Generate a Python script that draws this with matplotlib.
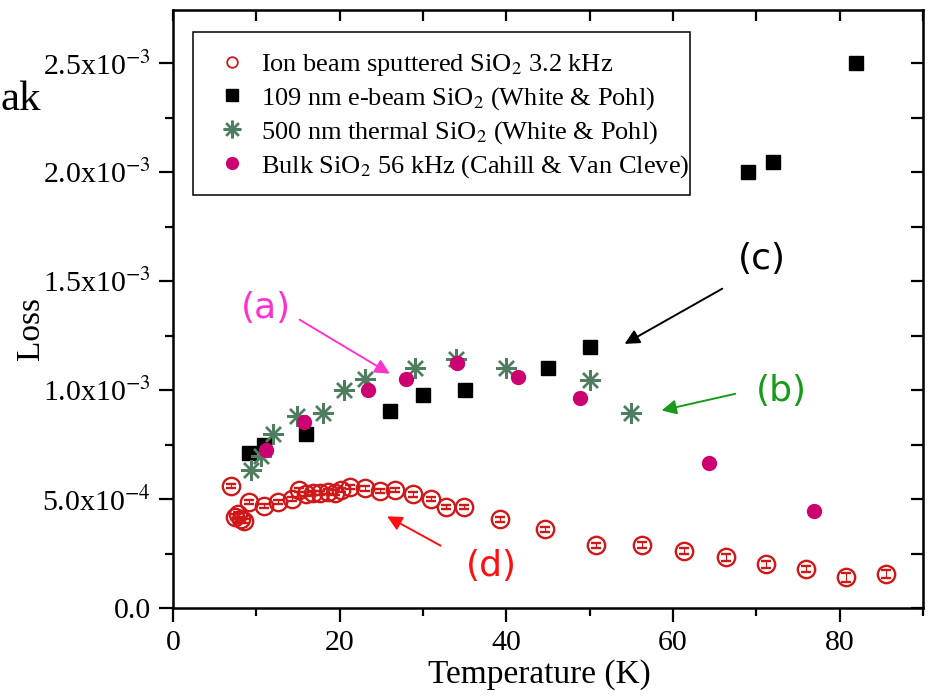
import numpy as np
import matplotlib
matplotlib.use("Agg")
import matplotlib.pyplot as plt
from matplotlib.patches import Rectangle
from matplotlib.ticker import MultipleLocator, FixedLocator

plt.rcParams['font.family'] = ['Liberation Serif', 'DejaVu Serif']
plt.rcParams['mathtext.fontset'] = 'stix'

# ion beam sputtered SiO2, 3.2 kHz (open red circles)
ion_T = [7.0, 7.4, 7.8, 8.1, 8.5, 9.1, 10.9, 12.6, 14.3, 15.1, 16.0, 16.8, 17.6,
         18.6, 19.4, 20.2, 21.2, 23.0, 24.8, 26.6, 28.8, 30.9, 32.8, 34.9, 39.2,
         44.6, 50.8, 56.3, 61.3, 66.3, 71.2, 76.0, 80.8, 85.6]
ion_loss = [0.560, 0.420, 0.430, 0.410, 0.400, 0.487, 0.467, 0.488, 0.500, 0.542,
            0.524, 0.527, 0.527, 0.534, 0.530, 0.541, 0.554, 0.549, 0.537, 0.541,
            0.521, 0.499, 0.465, 0.465, 0.408, 0.362, 0.287, 0.289, 0.261, 0.232,
            0.200, 0.179, 0.141, 0.156]
ion_err = [0.010] * 24 + [0.012, 0.012, 0.012, 0.012, 0.014, 0.014, 0.016, 0.016, 0.020, 0.020]

# 109 nm e-beam SiO2 (White & Pohl)
eb_T = [9.1, 10.9, 16.0, 26.0, 30.0, 35.0, 45.0, 50.0, 69.0, 72.0, 82.0]
eb_loss = [0.71, 0.748, 0.80, 0.905, 0.978, 1.00, 1.10, 1.20, 2.00, 2.045, 2.50]

# 500 nm thermal SiO2 (White & Pohl)
th_T = [9.4, 10.6, 12.0, 14.9, 18.0, 20.5, 23.0, 29.0, 34.0, 40.0, 50.0, 55.0]
th_loss = [0.635, 0.70, 0.80, 0.882, 0.897, 1.00, 1.05, 1.10, 1.145, 1.10, 1.047, 0.895]

# bulk SiO2 56 kHz (Cahill & Van Cleve)
bk_T = [11.1, 15.7, 23.4, 27.9, 34.1, 41.4, 48.8, 64.3, 76.9]
bk_loss = [0.725, 0.855, 1.00, 1.05, 1.125, 1.062, 0.966, 0.664, 0.446]

labels = ['Ion beam sputtered SiO$_2$ 3.2 kHz',
          '109 nm e-beam SiO$_2$ (White & Pohl)',
          '500 nm thermal SiO$_2$ (White & Pohl)',
          'Bulk SiO$_2$ 56 kHz (Cahill & Van Cleve)']

yticks = [0.0, 0.5e-3, 1.0e-3, 1.5e-3, 2.0e-3, 2.5e-3]
ytick_labels = ['0.0', '5.0x10$^{-4}$', '1.0x10$^{-3}$', '1.5x10$^{-3}$',
                '2.0x10$^{-3}$', '2.5x10$^{-3}$']

red = '#d01818'
pink = '#cc0070'
green = '#4f7d60'

fig = plt.figure(figsize=(9.3, 6.98), dpi=100)
ax = fig.add_axes([173/930, 90/698, 750/930, 598/698])

s = 1e-3
h_eb, = ax.plot(np.array(eb_T), np.array(eb_loss)*s, 's', color='black', ms=10, ls='none')
h_th, = ax.plot(np.array(th_T), np.array(th_loss)*s, ls='none', marker=(8, 2, 0),
                color=green, mec=green, ms=15, mew=1.7)
h_bk, = ax.plot(np.array(bk_T), np.array(bk_loss)*s, 'o', color=pink, ms=10, ls='none')
ax.errorbar(np.array(ion_T), np.array(ion_loss)*s, yerr=np.array(ion_err)*s, fmt='o',
            mfc='none', mec=red, ecolor=red, ms=12.5, mew=1.7, capsize=3.5,
            elinewidth=0.8, capthick=1.5, zorder=3)
h_ion, = ax.plot([], [], 'o', mfc='none', mec=red, ms=9, mew=1.3, ls='none')

ax.set_xlim(0, 90)
ax.set_ylim(0, 2.745e-3)
ax.xaxis.set_major_locator(MultipleLocator(20))
ax.xaxis.set_minor_locator(MultipleLocator(10))
ax.yaxis.set_major_locator(FixedLocator(yticks))
ax.set_yticklabels(ytick_labels)
ax.yaxis.set_minor_locator(MultipleLocator(0.25e-3))
ax.tick_params(which='major', direction='out', length=10, width=1.6, labelsize=21.5, pad=6)
ax.tick_params(which='minor', direction='out', length=6, width=1.6)
for sp in ax.spines.values():
    sp.set_linewidth(1.8)

# mirrored ticks on top and right, all pointing inward
top = ax.secondary_xaxis('top')
top.set_xticks(np.arange(0, 91, 10))
top.set_xticklabels([])
top.tick_params(direction='in', length=8, width=1.6)
right = ax.secondary_yaxis('right')
right.set_yticks(np.arange(0, 2.75e-3, 0.25e-3))
right.set_yticklabels([])
right.tick_params(direction='in', length=9, width=1.6)

ax.set_xlabel('Temperature (K)', fontsize=24)
ax.set_ylabel('Loss', fontsize=24)
ax.xaxis.set_label_coords(0.488, -0.085)
ax.yaxis.set_label_coords(-0.17, 0.468)

# legend without its own frame; box drawn separately so the right side is tight
leg = ax.legend([h_ion, h_eb, h_th, h_bk], labels, loc='upper left',
                bbox_to_anchor=(0.0267, 0.963), borderaxespad=0, fontsize=19,
                frameon=False, markerscale=0.85,
                handlelength=1.4, handletextpad=0.4, labelspacing=0.26,
                borderpad=0.77)
ax.add_patch(Rectangle((0.0267, 0.6906), 0.6627, 0.2724, transform=ax.transAxes,
                       facecolor='none', edgecolor='black', lw=1.1, zorder=5))

# callout labels
sans = ['DejaVu Sans']
ax.annotate('', xy=(26.3, 1.069e-3), xytext=(14.9, 1.330e-3),
            arrowprops=dict(arrowstyle='-|>', color='#ff33cc', lw=1.4, mutation_scale=22))
ax.text(11.2, 1.376e-3, '(a)', color='#ff33cc', fontsize=26, family=sans,
        ha='center', va='center')
ax.annotate('', xy=(53.9, 1.206e-3), xytext=(66.2, 1.472e-3),
            arrowprops=dict(arrowstyle='-|>', color='black', lw=1.4, mutation_scale=22))
ax.text(70.7, 1.601e-3, '(c)', color='black', fontsize=26, family=sans,
        ha='center', va='center')
ax.annotate('', xy=(58.3, 0.904e-3), xytext=(67.8, 0.986e-3),
            arrowprops=dict(arrowstyle='-|>', color='#1a9a1a', lw=1.4, mutation_scale=22))
ax.text(73.0, 0.995e-3, '(b)', color='#1a9a1a', fontsize=26, family=sans,
        ha='center', va='center')
ax.annotate('', xy=(25.4, 0.427e-3), xytext=(32.4, 0.280e-3),
            arrowprops=dict(arrowstyle='-|>', color='#ff1010', lw=1.4, mutation_scale=22))
ax.text(38.2, 0.193e-3, '(d)', color='#ff1010', fontsize=26, family=sans,
        ha='center', va='center')

# leftover text from the slide edge
fig.text(0.001, 1 - 110/698, 'ak', fontsize=31, ha='left', va='baseline')

fig.savefig('out.png', dpi=100)
